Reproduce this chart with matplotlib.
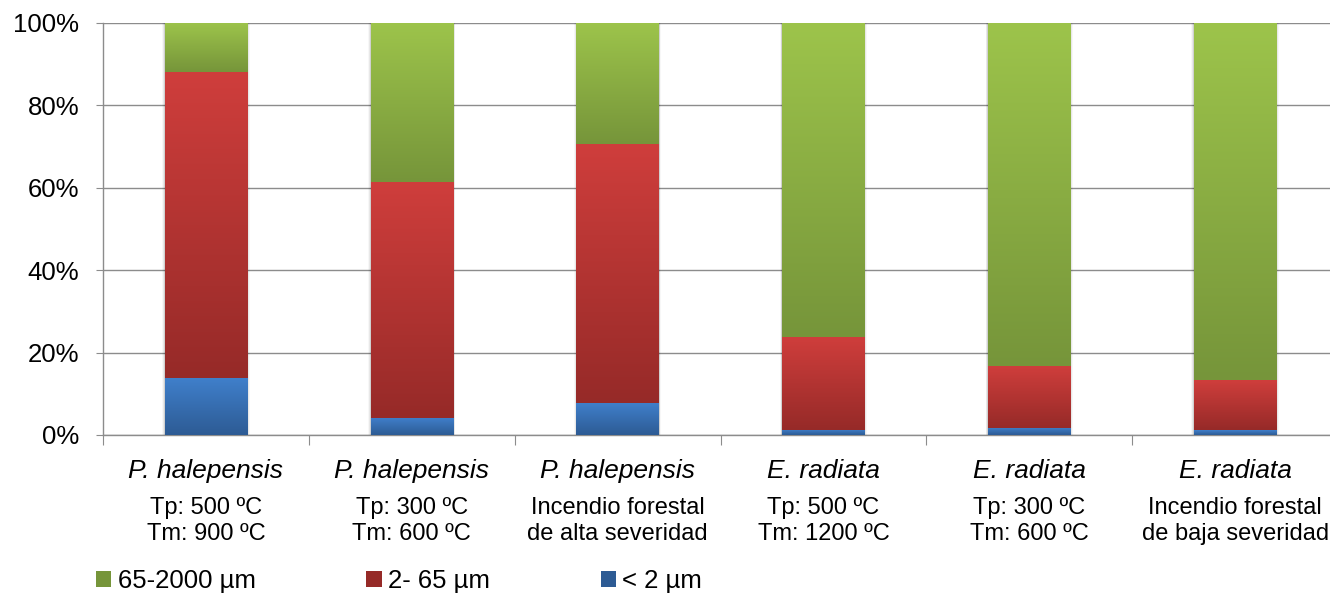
import numpy as np
import matplotlib
matplotlib.use("Agg")
import matplotlib.pyplot as plt
from matplotlib.colors import LinearSegmentedColormap
from matplotlib.patches import Patch, Rectangle
import matplotlib.transforms as mtransforms

plt.rcParams['font.family'] = ['Liberation Sans', 'DejaVu Sans']

species = ["P. halepensis", "P. halepensis", "P. halepensis",
           "E. radiata", "E. radiata", "E. radiata"]
details = ["Tp: 500 ºC\nTm: 900 ºC", "Tp: 300 ºC\nTm: 600 ºC",
           "Incendio forestal\nde alta severidad",
           "Tp: 500 ºC\nTm: 1200 ºC", "Tp: 300 ºC\nTm: 600 ºC",
           "Incendio forestal\nde baja severidad"]

# fractions (%) per size class, bottom to top
fine = [13.9, 4.2, 7.8, 1.3, 1.8, 1.2]        # < 2 um
medium = [74.2, 57.2, 62.8, 22.5, 14.9, 12.1]  # 2-65 um
coarse = [11.9, 38.6, 29.4, 76.2, 83.3, 86.7]  # 65-2000 um

labels = ["65-2000 µm", "2- 65 µm", "< 2 µm"]
# (top colour, bottom colour) of each gradient fill
grads = {
    "coarse": ("#9dc44b", "#76953a"),
    "medium": ("#cf3e3c", "#962a28"),
    "fine": ("#4080cc", "#2d5b94"),
}

fig = plt.figure(figsize=(13.3, 5.95), dpi=100)
ax = fig.add_axes([103 / 1330, 1 - 435 / 595, 1235 / 1330, 412 / 595])

x = np.arange(len(species))
w = 0.4
grad = np.linspace(1, 0, 256).reshape(-1, 1)


def grad_bars(vals, bottom, key):
    top, bot = grads[key]
    cmap = LinearSegmentedColormap.from_list(key, [bot, top])
    bars = ax.bar(x, vals, w, bottom=bottom, color="none", zorder=3)
    for b in bars:
        x0, y0 = b.get_x(), b.get_y()
        bw, bh = b.get_width(), b.get_height()
        ax.imshow(grad, cmap=cmap, aspect="auto", zorder=3,
                  extent=(x0, x0 + bw, y0, y0 + bh), interpolation="bicubic")
    return bars


fine_b = np.zeros(len(x))
med_b = np.array(fine)
coarse_b = med_b + np.array(medium)

# soft shadow behind each bar
for xi in x:
    for k, a in zip(range(1, 4), (0.10, 0.06, 0.03)):
        off = k * 0.004
        ax.add_patch(Rectangle((xi - w / 2 - off, 0), w + 2 * off, 100 + k * 0.05,
                               facecolor="#000000", alpha=a, edgecolor="none",
                               zorder=2))

grad_bars(fine, fine_b, "fine")
grad_bars(medium, med_b, "medium")
grad_bars(coarse, coarse_b, "coarse")

ax.set_xlim(-0.5, len(x) - 0.5)
ax.set_ylim(0, 100)
ax.set_yticks(np.arange(0, 101, 20))
ax.set_yticklabels([f"{v}%" for v in range(0, 101, 20)], fontsize=18.5)
ax.yaxis.grid(True, color="#8c8c8c", linewidth=1.0, zorder=1)
ax.set_axisbelow(True)
ax.tick_params(axis="y", length=5, color="#8c8c8c", pad=12)

ax.set_xticks(np.arange(-0.5, len(x), 1.0))
ax.set_xticklabels([])
ax.tick_params(axis="x", length=7, color="#8c8c8c", direction="out")

for s in ["top", "right"]:
    ax.spines[s].set_visible(False)
for s in ["left", "bottom"]:
    ax.spines[s].set_color("#8c8c8c")
    ax.spines[s].set_linewidth(1.0)

trans = mtransforms.blended_transform_factory(ax.transData, fig.transFigure)
for xi, sp, dt in zip(x, species, details):
    ax.text(xi, 1 - 471 / 595, sp, transform=trans, ha="center", va="center",
            fontsize=19, style="italic")
    ax.text(xi, 1 - 521 / 595, dt, transform=trans, ha="center", va="center",
            fontsize=17, linespacing=1.25)

handles = [Patch(facecolor=grads[k][1], edgecolor="none")
           for k in ("coarse", "medium", "fine")]
fig.legend(handles, labels, loc="center left", bbox_to_anchor=(96 / 1330, 1 - 581 / 595),
           ncol=3, frameon=False, fontsize=18.5, handlelength=0.6, handleheight=0.6,
           handletextpad=0.25, columnspacing=4.3, borderaxespad=0, borderpad=0)

fig.savefig("out.png", dpi=100)
